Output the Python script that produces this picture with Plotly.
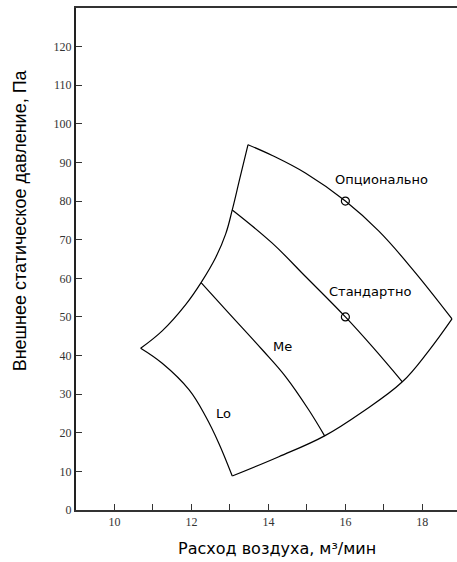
import plotly.graph_objects as go

# curve points (x = air flow m3/min, y = static pressure Pa)
left_x = [10.68, 11.24, 11.85, 12.25, 12.63, 12.89, 13.06, 13.26, 13.47]
left_y = [41.9, 46.4, 53.2, 58.9, 65.4, 71.5, 77.7, 86.0, 94.6]

opt_x = [13.47, 14.10, 14.97, 16.0, 16.87, 17.74, 18.77]
opt_y = [94.6, 91.8, 87.2, 80.0, 72.2, 62.4, 49.5]

std_x = [13.06, 14.10, 14.97, 16.0, 16.70, 17.48]
std_y = [77.7, 69.1, 60.4, 50.0, 42.3, 33.2]

me_x = [12.25, 12.97, 13.84, 14.45, 15.05, 15.46]
me_y = [58.9, 51.0, 41.5, 34.5, 25.9, 19.2]

bottom_x = [13.06, 14.27, 15.46, 16.44, 17.48, 18.17, 18.77]
bottom_y = [8.8, 13.8, 19.2, 25.4, 33.2, 41.3, 49.5]

lower_left_x = [10.68, 11.24, 11.94, 12.37, 12.71, 13.06]
lower_left_y = [41.9, 38.0, 31.1, 24.2, 17.3, 8.8]

marker_x = [16, 16]
marker_y = [80, 50]

region_labels = ["Опционально", "Стандартно", "Me", "Lo"]
label_x = [16.93, 16.65, 14.37, 12.84]
label_y = [85.7, 56.7, 42.3, 25.0]

x_ticks = [10, 11, 12, 13, 14, 15, 16, 17, 18]
x_ticktext = ["10", " ", "12", " ", "14", " ", "16", " ", "18"]
y_ticks = list(range(0, 130, 10))

fig = go.Figure()

line_style = dict(color="black", width=1.2, shape="spline", smoothing=1.1)
for xs, ys in [(left_x, left_y), (opt_x, opt_y), (std_x, std_y),
               (me_x, me_y), (bottom_x, bottom_y), (lower_left_x, lower_left_y)]:
    fig.add_trace(go.Scatter(x=xs, y=ys, mode="lines", line=line_style,
                             hoverinfo="skip", cliponaxis=False))

fig.add_trace(go.Scatter(
    x=marker_x, y=marker_y, mode="markers",
    marker=dict(symbol="circle-open", size=8, color="black",
                line=dict(width=1.2)),
))

for txt, lx, ly in zip(region_labels, label_x, label_y):
    fig.add_annotation(x=lx, y=ly, text=txt, showarrow=False,
                       font=dict(family="DejaVu Sans", size=13, color="black"))

# axis titles as annotations (placed like in the original)
fig.add_annotation(xref="paper", yref="paper", x=0.5276, y=-0.0757,
                   text="Расход воздуха, м³/мин", showarrow=False,
                   font=dict(family="DejaVu Sans", size=16, color="black"),
                   xanchor="center", yanchor="middle")
fig.add_annotation(xref="paper", yref="paper", x=-0.147, y=0.577,
                   text="Внешнее статическое давление, Па", showarrow=False,
                   textangle=-90,
                   font=dict(family="Liberation Sans", size=18, color="black"),
                   xanchor="center", yanchor="middle")

fig.update_layout(
    width=457, height=562,
    margin=dict(l=76, r=0, t=8, b=52),
    plot_bgcolor="white", paper_bgcolor="white",
    showlegend=False,
    xaxis=dict(range=[9, 18.9], tickvals=x_ticks, ticktext=x_ticktext,
               ticks="inside", ticklen=6, tickcolor="#333",
               showline=True, linecolor="#333", linewidth=2, mirror=True,
               showgrid=False, zeroline=False,
               tickfont=dict(family="Liberation Serif", size=12, color="#333")),
    yaxis=dict(range=[0, 130], tickvals=y_ticks,
               ticks="inside", ticklen=6, tickcolor="#333",
               showline=True, linecolor="#222", linewidth=2,
               showgrid=False, zeroline=False,
               tickfont=dict(family="Liberation Serif", size=12, color="#333")),
)

fig.write_html("out.html", config={"displayModeBar": False},
               post_script="document.body.style.margin='0';")
